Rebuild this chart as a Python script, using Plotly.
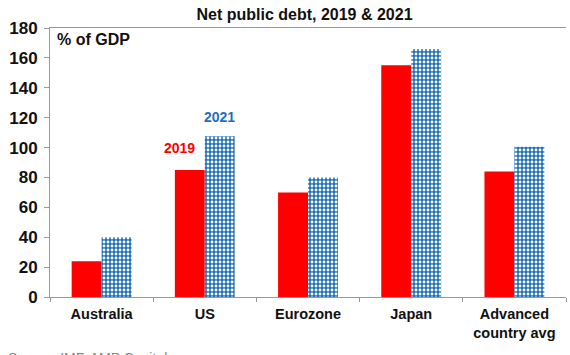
import plotly.graph_objects as go

categories = ["Australia", "US", "Eurozone", "Japan", "Advanced<br>country avg"]
debt_2019 = [24, 85, 70, 155, 84]
debt_2021 = [40, 107.5, 80, 166, 100.5]
y_ticks = [0, 20, 40, 60, 80, 100, 120, 140, 160, 180]

FONT = "Arial, Liberation Sans, sans-serif"
RED = "#FF0000"
BLUE = "#1E6FBA"

fig = go.Figure()
fig.add_trace(go.Bar(x=categories, y=debt_2019, name="2019",
                     marker=dict(color=RED, line=dict(width=0))))
fig.add_trace(go.Bar(x=categories, y=debt_2021, name="2021",
                     marker=dict(color=BLUE, line=dict(width=0),
                                 pattern=dict(shape=".", fgcolor="white", bgcolor=BLUE,
                                              size=4, solidity=0.4, fillmode="replace"))))

fig.update_layout(
    width=570, height=355,
    margin=dict(l=50, r=4, t=28, b=58),
    paper_bgcolor="white", plot_bgcolor="white",
    barmode="group", bargap=0.42, bargroupgap=0,
    showlegend=False,
    font=dict(family=FONT, color="#111111"),
    title=dict(text="<b>Net public debt, 2019 & 2021</b>", x=304.5/570, xanchor="center",
               y=1 - 14/355, yanchor="middle", font=dict(size=16, color="#111111")),
)
fig.update_xaxes(showline=True, linecolor="#999999", linewidth=1, mirror=True,
                 ticks="outside", ticklen=4, tickcolor="#999999", tickson="boundaries",
                 tickfont=dict(size=14.5, family=FONT, color="#111111"),
                 ticklabelstandoff=4,
                 showgrid=False, zeroline=False, automargin=False)
fig.update_yaxes(range=[0, 180], tickvals=y_ticks, showline=True, linecolor="#999999",
                 linewidth=1, ticks="outside", ticklen=5, tickcolor="#999999",
                 tickfont=dict(size=17, family=FONT, color="#111111"),
                 ticklabelstandoff=3,
                 showgrid=False, zeroline=False, automargin=False)

# make tick labels bold
fig.update_xaxes(ticktext=[f"<b>{c}</b>" for c in categories], tickvals=categories)
fig.update_yaxes(ticktext=[f"<b>{v}</b>" for v in y_ticks])

fig.add_annotation(text="<b>% of GDP</b>", xref="paper", yref="y", x=0.01, y=172,
                   xanchor="left", yanchor="middle", showarrow=False,
                   font=dict(size=16, color="#111111"))
fig.add_annotation(text="<b>2019</b>", xref="x", yref="y", x="US", y=100, xshift=-25,
                   xanchor="center", yanchor="middle", showarrow=False,
                   font=dict(size=14, color=RED))
fig.add_annotation(text="<b>2021</b>", xref="x", yref="y", x="US", y=120.5, xshift=15,
                   xanchor="center", yanchor="middle", showarrow=False,
                   font=dict(size=14, color=BLUE))
fig.add_annotation(text="Source: IMF, AMP Capital", xref="paper", yref="paper",
                   x=-0.085, y=-0.225, xanchor="left", yanchor="middle", showarrow=False,
                   font=dict(size=14, color="#888888"))

fig.write_html("out.html", config={"displayModeBar": False},
               post_script="document.body.style.margin='0';document.body.style.overflow='hidden';")
